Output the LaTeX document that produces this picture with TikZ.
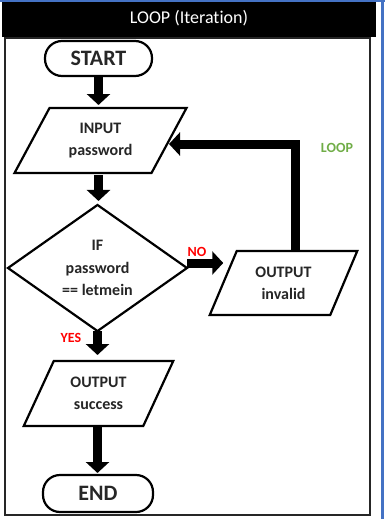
\documentclass[tikz,border=0pt]{standalone}
\usepackage{fontspec}
\setmainfont{Carlito}[Ligatures={NoCommon}]
\usetikzlibrary{arrows.meta,shapes.geometric,calc}

\definecolor{edgeblue}{RGB}{68,114,196}
\definecolor{nored}{RGB}{255,0,0}
\definecolor{loopgreen}{RGB}{112,173,71}
\definecolor{txt}{RGB}{38,38,38}

\tikzset{
  every node/.style={inner sep=0pt, outer sep=0pt, text=txt},
  outline/.style={draw=black, line width=2.2pt, line join=miter},
  terminal/.style={outline, rounded corners=17pt, font=\bfseries\fontsize{22}{24}\selectfont, align=center},
  iobox/.style={draw=none, font=\bfseries\fontsize{16}{22}\selectfont, align=center},
  decision/.style={outline, diamond, font=\bfseries\fontsize{16}{22.5}\selectfont, align=center},
  flow/.style={line width=9pt, line join=miter, -{Triangle[width=23pt,length=11pt]}},
  tag/.style={font=\bfseries\fontsize{14}{16}\selectfont}
}

% slanted input/output box drawn around a named rectangle node
\newcommand{\ioslant}[2]{%
  \draw[outline] ([xshift=#2pt]#1.north west) -- ([xshift=#2pt]#1.north east)
    -- ([xshift=-#2pt]#1.south east) -- ([xshift=-#2pt]#1.south west) -- cycle;}

\begin{document}
\begin{tikzpicture}[x=1pt,y=-1pt]
  \useasboundingbox (0,0) rectangle (385,519);
  \fill[white] (0,0) rectangle (385,519);

  % window edges
  \fill[edgeblue] (0,0) rectangle (385,1.8);
  \fill[edgeblue] (380.5,0) rectangle (383.5,519);

  % title bar
  \fill[black] (2,2) rectangle (376,37);
  \node[text=white, font=\fontsize{18}{20}\selectfont] (title) at (189,18.5) {LOOP (Iteration)};

  % frame
  \draw[line width=2.5pt, draw=black!85] (5,38) rectangle (370,515);

  % nodes
  \node[terminal, minimum width=107pt, minimum height=35pt] (start) at (98.5,58.5) {START};

  \node[iobox, minimum width=137pt, minimum height=65pt] (inp) at (100.5,140.5) {INPUT\\password};
  \ioslant{inp}{17.5}

  \node[decision, minimum width=179pt, minimum height=122pt] (dec) at (97.5,268) {IF\\password\\== letmein};

  \node[iobox, minimum width=120.5pt, minimum height=64pt] (inv) at (283.5,283) {OUTPUT\\invalid};
  \ioslant{inv}{13.5}

  \node[iobox, minimum width=119.5pt, minimum height=65pt] (suc) at (98.5,393.5) {OUTPUT\\success};
  \ioslant{suc}{15}

  \node[terminal, minimum width=110pt, minimum height=37pt] (end) at (98,493.5) {END};

  % connectors
  \draw[flow, shorten >=3pt] (start.south) -- (start.south |- inp.north);
  \draw[flow, shorten <=2pt, shorten >=4pt] (inp.south -| start.south) -- (dec.north -| start.south);
  \draw[flow] ([yshift=5pt]dec.east) -- ([yshift=5pt]dec.east -| inv.west);
  \draw[flow] ([xshift=12pt]inv.north) |- ([yshift=-3.5pt]inp.east);
  \draw[flow, shorten >=6pt] (dec.south) -- (dec.south |- suc.north);
  \draw[flow, shorten <=1pt, shorten >=2pt] (suc.south -| dec.south) -- (end.north -| dec.south);

  % branch labels
  \node[tag, text=nored] (no) at (197,252) {NO};
  \node[tag, text=nored] (yes) at (71,338) {YES};
  \node[tag, text=loopgreen] (loop) at (337,148) {LOOP};
\end{tikzpicture}
\end{document}
